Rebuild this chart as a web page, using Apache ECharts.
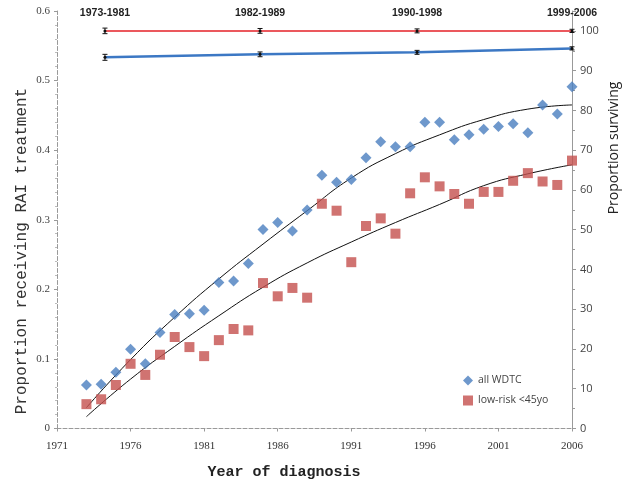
<!DOCTYPE html>
<html><head><meta charset="utf-8">
<script src="https://cdn.jsdelivr.net/npm/echarts@6/dist/echarts.min.js"></script>
<style>html,body{margin:0;padding:0;background:#fff}#c{width:632px;height:492px}</style>
</head><body><div id="c"></div>
<script>
// ---- data ----
const axisYears = ['1971','1972','1973','1974','1975','1976','1977','1978','1979','1980','1981','1982','1983','1984','1985','1986','1987','1988','1989','1990','1991','1992','1993','1994','1995','1996','1997','1998','1999','2000','2001','2002','2003','2004','2005','2006'];
const years = [1973,1974,1975,1976,1977,1978,1979,1980,1981,1982,1983,1984,1985,1986,1987,1988,1989,1990,1991,1992,1993,1994,1995,1996,1997,1998,1999,2000,2001,2002,2003,2004,2005,2006];
const allWDTC = [0.0625,0.0635,0.081,0.114,0.093,0.138,0.164,0.165,0.170,0.210,0.212,0.237,0.286,0.296,0.284,0.314,0.364,0.354,0.358,0.389,0.412,0.405,0.405,0.440,0.440,0.415,0.422,0.430,0.434,0.438,0.425,0.465,0.452,0.491];
const lowRisk = [0.035,0.042,0.0625,0.093,0.077,0.106,0.1315,0.117,0.104,0.127,0.143,0.141,0.209,0.190,0.202,0.188,0.323,0.313,0.239,0.291,0.302,0.280,0.338,0.361,0.348,0.337,0.323,0.340,0.340,0.356,0.367,0.355,0.350,0.385];
const trendYears = [1973,1976,1979,1982,1985,1988,1991,1994,1997,2000,2003,2006];
const trendAll = [0.030,0.099,0.160,0.215,0.265,0.313,0.360,0.395,0.422,0.444,0.459,0.465];
const trendLow = [0.017,0.071,0.118,0.162,0.203,0.238,0.268,0.296,0.322,0.349,0.366,0.379];
const periodLabels = ['1973-1981','1982-1989','1990-1998','1999-2006'];
const periodX = [1974.26,1984.8,1995.47,2006];
const survLow = [100,100,100,100];
const survLowErrLo = [99.3,99.4,99.5,99.6];
const survLowErrHi = [100.7,100.6,100.5,100.4];
const survAll = [93.36,94.1,94.6,95.6];
const survAllErrLo = [92.6,93.5,94.1,95.2];
const survAllErrHi = [94.1,94.7,95.1,96.0];
const leftTicks = {min:0, max:0.6, interval:0.1};
const rightTicks = {min:0, max:105, interval:10};

// ---- build ----
const pairs = (xs, ys) => xs.map((x, i) => [x, ys[i]]);
const errData = (xs, lo, hi) => xs.map((x, i) => [x, lo[i], hi[i]]);
function errBar(params, api) {
  const x = api.value(0);
  const a = api.coord([x, api.value(1)]);
  const b = api.coord([x, api.value(2)]);
  const w = 2.5;
  return {type:'group', children:[
    {type:'line', shape:{x1:a[0], y1:a[1], x2:b[0], y2:b[1]}, style:{stroke:'#111', lineWidth:1}},
    {type:'line', shape:{x1:a[0]-w, y1:a[1], x2:a[0]+w, y2:a[1]}, style:{stroke:'#111', lineWidth:1}},
    {type:'line', shape:{x1:b[0]-w, y1:b[1], x2:b[0]+w, y2:b[1]}, style:{stroke:'#111', lineWidth:1}}
  ]};
}

const chart = echarts.init(document.getElementById('c'), null, {renderer:'canvas'});
chart.setOption({
  animation:false,
  backgroundColor:'#fff',
  grid:{left:57, right:60, top:11, bottom:63.5, containLabel:false},
  legend:{
    orient:'vertical', left:458, top:370, itemWidth:10, itemHeight:10, itemGap:9,
    data:['all WDTC','low-risk <45yo'],
    textStyle:{fontFamily:'Open Sans', fontSize:10.5, color:'#444'}
  },
  xAxis:[
    {type:'category', data:axisYears, boundaryGap:false,
     axisLine:{lineStyle:{color:'#999', type:'dashed', width:1}},
     axisTick:{interval:4, length:3, lineStyle:{color:'#999'}},
     axisLabel:{interval:4, margin:12, fontFamily:'Liberation Serif', fontSize:11, color:'#333'},
     splitLine:{show:false}},
    {type:'value', min:1971, max:2006, show:false}
  ],
  yAxis:[
    {type:'value', min:leftTicks.min, max:leftTicks.max, interval:leftTicks.interval,
     axisLine:{show:true, lineStyle:{color:'#999', type:'dashed'}},
     axisTick:{show:true, length:3, lineStyle:{color:'#999'}},
     minorTick:{show:true, splitNumber:5, length:2, lineStyle:{color:'#bbb'}},
     axisLabel:{margin:7, fontFamily:'Liberation Serif', fontSize:11, color:'#444'},
     splitLine:{show:false}},
    {type:'value', min:rightTicks.min, max:rightTicks.max, interval:rightTicks.interval, position:'right',
     axisLine:{show:true, lineStyle:{color:'#999'}},
     axisTick:{show:true, length:4, lineStyle:{color:'#999'}},
     minorTick:{show:true, splitNumber:2, length:3, lineStyle:{color:'#999'}},
     axisLabel:{margin:8, showMaxLabel:false, fontFamily:'Open Sans', fontSize:11, color:'#444'},
     splitLine:{show:false}}
  ],
  graphic:[
    {type:'text', x:22, y:251, rotation:Math.PI/2,
     style:{text:'Proportion receiving RAI treatment', font:'16px "Liberation Mono"', fill:'#333', textAlign:'center', textVerticalAlign:'middle'}},
    {type:'text', x:284, y:472,
     style:{text:'Year of diagnosis', font:'bold 15px "Liberation Mono"', fill:'#222', textAlign:'center', textVerticalAlign:'middle'}},
    {type:'text', x:614, y:148, rotation:Math.PI/2,
     style:{text:'Proportion surviving', font:'14px "Open Sans"', fill:'#222', textAlign:'center', textVerticalAlign:'middle'}}
  ],
  series:[
    {name:'trend all', type:'line', xAxisIndex:1, yAxisIndex:0, smooth:true, showSymbol:false, silent:true,
     data:pairs(trendYears, trendAll), lineStyle:{color:'#111', width:1}, z:3},
    {name:'trend low', type:'line', xAxisIndex:1, yAxisIndex:0, smooth:true, showSymbol:false, silent:true,
     data:pairs(trendYears, trendLow), lineStyle:{color:'#111', width:1}, z:3},
    {name:'all WDTC', type:'scatter', xAxisIndex:1, yAxisIndex:0, symbol:'diamond', symbolSize:11,
     itemStyle:{color:'#4a7ebf'}, data:pairs(years, allWDTC), z:4},
    {name:'low-risk <45yo', type:'scatter', xAxisIndex:1, yAxisIndex:0, symbol:'rect', symbolSize:10,
     itemStyle:{color:'#c4504d'}, data:pairs(years, lowRisk), z:4},
    {name:'surv low', type:'line', xAxisIndex:1, yAxisIndex:1, symbol:'circle', symbolSize:3,
     itemStyle:{color:'#111'}, lineStyle:{color:'#e52228', width:1.5},
     label:{show:true, position:'top', distance:11, formatter:p => periodLabels[p.dataIndex],
       fontFamily:'Liberation Sans', fontWeight:'bold', fontSize:10.5, color:'#222'},
     data:pairs(periodX, survLow), z:5},
    {name:'surv all', type:'line', xAxisIndex:1, yAxisIndex:1, symbol:'circle', symbolSize:3,
     itemStyle:{color:'#111'}, lineStyle:{color:'#3c78c4', width:2.5},
     data:pairs(periodX, survAll), z:5},
    {name:'err low', type:'custom', xAxisIndex:1, yAxisIndex:1, renderItem:errBar,
     data:errData(periodX, survLowErrLo, survLowErrHi), z:6},
    {name:'err all', type:'custom', xAxisIndex:1, yAxisIndex:1, renderItem:errBar,
     data:errData(periodX, survAllErrLo, survAllErrHi), z:6}
  ]
});
</script></body></html>
